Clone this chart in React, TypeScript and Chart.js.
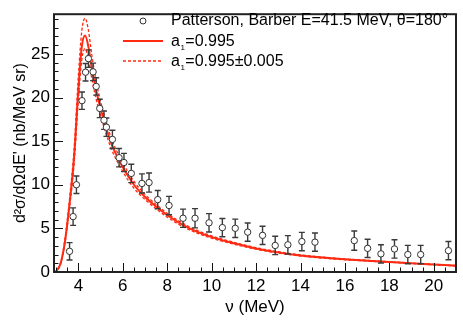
import React, { useEffect, useRef } from "react";
import { Chart, registerables } from "chart.js";
Chart.register(...registerables);

// Measured data (Patterson, Barber)
const dataX = [3.6, 3.76, 3.91, 4.16, 4.32, 4.45, 4.66, 4.8, 4.96, 5.15, 5.26, 5.53, 5.83, 6.05, 6.38, 6.86, 7.18, 7.57, 8.08, 8.71, 9.25, 9.88, 10.48, 11.06, 11.62, 12.29, 12.86, 13.43, 14.06, 14.65, 16.42, 17.02, 17.62, 18.23, 18.83, 19.41, 20.66];
const dataY = [2.37, 6.35, 10.0, 19.64, 22.9, 24.46, 22.94, 21.27, 18.75, 17.4, 16.6, 15.2, 13.1, 12.55, 11.3, 10.15, 10.25, 8.3, 7.62, 6.16, 6.16, 5.64, 5.09, 5.01, 4.57, 4.2, 3.04, 3.12, 3.49, 3.42, 3.6, 2.71, 2.08, 2.64, 2.0, 2.0, 2.45];
const dataErr = [1.0, 1.0, 1.0, 1.0, 1.0, 1.0, 1.0, 1.0, 1.05, 1.05, 1.05, 1.05, 1.05, 1.05, 1.05, 1.1, 1.1, 1.05, 1.05, 1.05, 1.1, 1.05, 1.05, 1.05, 1.05, 1.05, 1.05, 1.05, 1.05, 1.05, 1.1, 1.05, 1.05, 1.05, 1.05, 1.05, 1.05];

// Model curves
const curveX = [2.9, 3.0, 3.2, 3.4, 3.6, 3.8, 4.0, 4.15, 4.3, 4.45, 4.6, 4.8, 5.0, 5.25, 5.5, 6.0, 6.5, 7.0, 7.5, 8, 9, 10, 11, 12, 13, 14, 15, 16, 17, 18, 19, 20, 21];
const curveMain = [0, 0.1, 1.0, 3.6, 7.8, 13.0, 21.0, 25.8, 27.1, 25.8, 23.4, 20.8, 18.7, 16.5, 14.6, 12.0, 10.0, 8.6, 7.5, 6.5, 5.0, 4.0, 3.3, 2.7, 2.25, 1.9, 1.65, 1.45, 1.3, 1.15, 1.0, 0.85, 0.72];
const curveUpper = [0, 0.1, 1.1, 3.9, 8.4, 14.0, 22.6, 27.6, 29.1, 27.7, 24.9, 21.9, 19.5, 17.2, 15.2, 12.5, 10.4, 8.9, 7.75, 6.72, 5.17, 4.13, 3.41, 2.79, 2.33, 1.97, 1.71, 1.5, 1.34, 1.18, 1.03, 0.88, 0.74];
const curveLower = [0, 0.1, 0.95, 3.4, 7.4, 12.3, 19.8, 24.3, 25.6, 24.4, 22.2, 19.8, 17.9, 15.8, 14.0, 11.5, 9.6, 8.3, 7.25, 6.28, 4.83, 3.87, 3.19, 2.61, 2.17, 1.83, 1.59, 1.4, 1.26, 1.12, 0.97, 0.82, 0.7];

const xTicks = [4, 6, 8, 10, 12, 14, 16, 18, 20];
const yTicks = [0, 5, 10, 15, 20, 25];

const legendData = "Patterson, Barber E=41.5 MeV, θ=180°";
const legendMain = "=0.995";
const legendBand = "=0.995±0.005";

const RED = "#ff2a12";
const FONT = "'Liberation Sans', Arial, Helvetica, sans-serif";

const decor = {
  id: "decor",
  beforeDatasetDraw(chart: any, args: any) {
    if (args.index !== 0) return;
    const ctx = chart.ctx;
    const xs = chart.scales.x;
    const ys = chart.scales.y;
    ctx.save();
    ctx.strokeStyle = "#3a3a3a";
    ctx.lineWidth = 1.4;
    for (let i = 0; i < dataX.length; i++) {
      const px = xs.getPixelForValue(dataX[i]);
      const y1 = ys.getPixelForValue(dataY[i] - dataErr[i]);
      const y2 = ys.getPixelForValue(dataY[i] + dataErr[i]);
      ctx.beginPath();
      ctx.moveTo(px, y1);
      ctx.lineTo(px, y2);
      ctx.moveTo(px - 3, y1);
      ctx.lineTo(px + 3, y1);
      ctx.moveTo(px - 3, y2);
      ctx.lineTo(px + 3, y2);
      ctx.stroke();
    }
    ctx.restore();
  },
  afterDraw(chart: any) {
    const ctx = chart.ctx;
    const { left, right, top, bottom } = chart.chartArea;
    const xs = chart.scales.x;
    const ys = chart.scales.y;
    ctx.save();
    // ticks
    ctx.strokeStyle = "#111";
    ctx.lineWidth = 1;
    ctx.beginPath();
    for (let v = 0; v <= 29; v += 1) {
      const py = Math.round(ys.getPixelForValue(v)) + 0.5;
      const len = v % 5 === 0 ? 9 : 4.5;
      ctx.moveTo(left, py);
      ctx.lineTo(left + len, py);
    }
    for (let v = 3; v <= 21; v += 0.5) {
      const px = Math.round(xs.getPixelForValue(v)) + 0.5;
      const len = v % 2 === 0 ? 9 : 4.5;
      ctx.moveTo(px, bottom);
      ctx.lineTo(px, bottom - len);
    }
    ctx.stroke();
    // frame
    ctx.strokeStyle = "#222";
    ctx.lineWidth = 2;
    ctx.strokeRect(left, top, right - left, bottom - top);

    // legend
    ctx.fillStyle = "#000";
    ctx.textBaseline = "middle";
    ctx.textAlign = "left";
    ctx.font = `16px ${FONT}`;
    ctx.strokeStyle = "#333";
    ctx.lineWidth = 1;
    ctx.beginPath();
    ctx.arc(143, 21, 3, 0, Math.PI * 2);
    ctx.fillStyle = "#fff";
    ctx.fill();
    ctx.stroke();
    ctx.fillStyle = "#000";
    ctx.fillText(legendData, 171, 21);
    ctx.strokeStyle = RED;
    ctx.lineWidth = 2;
    ctx.beginPath();
    ctx.moveTo(123, 41);
    ctx.lineTo(163, 41);
    ctx.stroke();
    ctx.lineWidth = 1.3;
    ctx.setLineDash([3, 2]);
    ctx.beginPath();
    ctx.moveTo(123, 61);
    ctx.lineTo(163, 61);
    ctx.stroke();
    ctx.setLineDash([]);
    const drawA1 = (x: number, y: number, rest: string) => {
      ctx.font = `16px ${FONT}`;
      ctx.fillText("a", x, y);
      const w = ctx.measureText("a").width;
      ctx.font = `8px ${FONT}`;
      ctx.fillText("1", x + w + 0.5, y + 6);
      const w1 = ctx.measureText("1").width;
      ctx.font = `16px ${FONT}`;
      ctx.fillText(rest, x + w + w1 + 1, y);
    };
    drawA1(171, 42, legendMain);
    drawA1(171, 62, legendBand);
    ctx.restore();
  },
};

export default function App() {
  const ref = useRef<HTMLCanvasElement | null>(null);
  useEffect(() => {
    document.body.style.margin = "0";
    if (!ref.current) return;
    Chart.defaults.font.family = FONT;
    const pts = (ys: number[]) => curveX.map((x, i) => ({ x, y: ys[i] }));
    const dashed = {
      showLine: true,
      borderColor: RED,
      borderWidth: 1.3,
      borderDash: [3, 2],
      pointRadius: 0,
      cubicInterpolationMode: "monotone",
    };
    const chart = new Chart(ref.current, {
      type: "scatter",
      data: {
        datasets: [
          {
            data: dataX.map((x, i) => ({ x, y: dataY[i] })),
            pointRadius: 3.2,
            pointBorderColor: "#333",
            pointBackgroundColor: "#fff",
            pointBorderWidth: 1,
            showLine: false,
          },
          {
            data: pts(curveMain),
            showLine: true,
            borderColor: RED,
            borderWidth: 2,
            pointRadius: 0,
            cubicInterpolationMode: "monotone",
          },
          { data: pts(curveUpper), ...dashed },
          { data: pts(curveLower), ...dashed },
        ],
      } as any,
      options: {
        responsive: false,
        animation: false,
        layout: { padding: { top: 6, right: 7, left: 0, bottom: 0 } },
        plugins: { legend: { display: false }, tooltip: { enabled: false } },
        scales: {
          x: {
            type: "linear",
            min: 2.9,
            max: 21,
            grid: { display: false, drawTicks: false },
            border: { display: false },
            afterBuildTicks: (s: any) => {
              s.ticks = xTicks.map((v) => ({ value: v }));
            },
            afterFit: (s: any) => {
              s.height = 55;
            },
            ticks: { color: "#000", font: { size: 17 }, padding: 4, maxRotation: 0, autoSkip: false },
            title: { display: true, text: "ν (MeV)", color: "#000", font: { size: 17 }, padding: { top: 0, bottom: 9 } },
          },
          y: {
            type: "linear",
            min: 0,
            max: 29.55,
            grid: { display: false, drawTicks: false },
            border: { display: false },
            afterBuildTicks: (s: any) => {
              s.ticks = yTicks.map((v) => ({ value: v }));
            },
            afterFit: (s: any) => {
              s.width = 54;
            },
            ticks: { color: "#000", font: { size: 17 }, padding: 4, autoSkip: false },
            title: { display: true, text: "d²σ/dΩdE' (nb/MeV sr)", color: "#000", font: { size: 16 }, padding: { top: 11, bottom: 0 } },
          },
        },
      } as any,
      plugins: [decor],
    });
    return () => chart.destroy();
  }, []);
  return (
    <div style={{ width: 463, height: 327 }}>
      <canvas ref={ref} width={463} height={327} />
    </div>
  );
}
